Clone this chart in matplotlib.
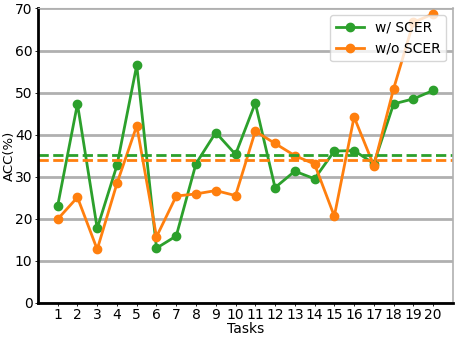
import numpy as np
import matplotlib
matplotlib.use("Agg")
import matplotlib.pyplot as plt

tasks = list(range(1, 21))
acc_with = [23.1, 47.3, 17.7, 32.7, 56.5, 13.0, 15.9, 33.1, 40.5, 35.3,
            47.5, 27.4, 31.3, 29.5, 36.1, 36.2, 33.1, 47.3, 48.5, 50.5]
acc_without = [19.9, 25.1, 12.7, 28.4, 42.1, 15.7, 25.4, 25.9, 26.7, 25.5,
               40.8, 37.9, 35.0, 33.0, 20.6, 44.2, 32.6, 50.9, 66.7, 68.7]
labels = ["w/ SCER", "w/o SCER"]
colors = ["#2ca02c", "#ff7f0e"]

fig = plt.figure(figsize=(4.57, 3.38), dpi=100)
ax = fig.add_axes([0.083, 0.104, 0.908, 0.871])

ax.grid(axis="y", color="#b0b0b0", linewidth=2)
ax.set_axisbelow(True)

for vals, lab, c in zip([acc_with, acc_without], labels, colors):
    ax.plot(tasks, vals, "-o", color=c, linewidth=2, markersize=6, label=lab)
for vals, c in zip([acc_with, acc_without], colors):
    ax.axhline(np.mean(vals), color=c, linestyle="--", linewidth=2)

ax.set_xlim(0, 21)
ax.set_ylim(0, 70)
ax.set_xticks(tasks)
ax.set_yticks(range(0, 71, 10))
ax.tick_params(labelsize=10, length=2, width=0.6, pad=2)
ax.set_xlabel("Tasks", fontsize=10, labelpad=0)
ax.set_ylabel("ACC(%)", fontsize=9.5)
ax.yaxis.set_label_coords(-0.052, 0.5)

ax.spines["left"].set_linewidth(2)
ax.spines["bottom"].set_linewidth(2)
ax.spines["top"].set_color("#b0b0b0")
ax.spines["right"].set_color("#b0b0b0")
ax.spines["right"].set_linewidth(1.2)

ax.legend(loc="upper right", fontsize=10, borderaxespad=0.5)

fig.savefig("out.png", dpi=100)
